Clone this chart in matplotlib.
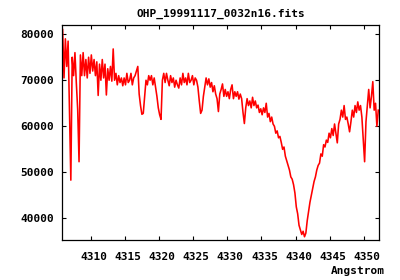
import numpy as np
import matplotlib
matplotlib.use("Agg")
import matplotlib.pyplot as plt
from matplotlib.transforms import ScaledTranslation

title = "OHP_19991117_0032n16.fits"
xlabel = "Angstrom"

# Wavelength sampling of the spectrum (Angstrom)
wl_start = 4305.9
wl_step = 0.2

# Flux values (thousands of counts)
flux_k = [
    81.0, 70.5, 79.0, 73.0, 78.5,
    63.5, 48.3, 75.0, 71.0, 76.0,
    69.5, 63.7, 52.3, 75.5, 71.0,
    76.0, 71.0, 74.5, 70.5, 75.0,
    71.5, 75.5, 72.0, 74.5, 71.0,
    74.0, 66.7, 73.5, 70.0, 74.5,
    70.5, 73.5, 66.8, 72.5, 70.0,
    73.0, 69.8, 76.8, 70.0, 71.5,
    69.0, 71.0, 69.5, 70.5, 68.8,
    70.5, 69.0, 71.5, 69.5, 70.0,
    71.5, 69.0, 70.5, 71.0, 72.0,
    73.0, 67.0, 64.5, 62.6, 62.8,
    66.5, 70.0, 69.0, 71.0, 70.0,
    71.0, 69.0, 70.5, 68.5, 66.5,
    64.0, 62.5, 61.5, 70.0, 71.5,
    69.5, 71.5, 70.0, 68.8, 71.0,
    69.5, 70.5, 68.5, 70.0, 69.0,
    68.3, 70.5, 69.0, 71.5, 69.5,
    70.5, 69.0, 71.5, 69.5, 70.0,
    71.0, 69.0, 70.5, 70.0, 68.5,
    65.5, 62.8, 63.5, 66.5, 68.5,
    70.5, 69.0, 70.3, 68.5, 69.5,
    67.5, 68.8, 67.0, 66.0, 63.2,
    67.0, 68.0, 69.2, 66.5, 68.0,
    66.5, 67.5, 66.0, 68.0, 69.0,
    66.0, 67.5, 66.5, 67.5, 65.9,
    67.0, 66.0, 63.0, 60.6, 64.0,
    66.0, 64.5, 65.5, 64.0, 66.3,
    64.5, 65.5, 64.0, 64.6, 63.0,
    63.8, 62.5, 64.0, 63.0, 65.0,
    62.0, 62.8, 61.0, 62.0, 60.5,
    60.0, 58.5, 59.0, 57.5, 57.8,
    56.5, 55.0, 55.5, 53.5, 52.5,
    51.5, 50.5, 49.0, 48.5, 47.3,
    45.5, 42.5, 41.0, 38.5, 37.5,
    36.5, 37.2, 36.0, 36.8, 39.5,
    41.5, 43.5, 45.0, 46.5, 48.0,
    49.0, 50.5, 51.5, 52.0, 54.0,
    53.5, 56.0, 55.5, 57.0, 56.5,
    58.5, 57.5, 59.5, 58.0, 60.5,
    58.5, 56.4, 60.5, 61.5, 63.5,
    62.0, 64.5, 61.5, 62.0, 60.5,
    58.8, 61.0, 63.5, 62.0, 64.5,
    63.0, 65.3, 63.5, 64.5, 62.0,
    57.0, 52.3, 61.0, 64.5, 68.0,
    64.0, 66.5, 69.7, 63.5, 65.0,
    60.0, 63.5,
]

xticks = [4310, 4315, 4320, 4325, 4330, 4335, 4340, 4345, 4350]
yticks = [40000, 50000, 60000, 70000, 80000]
xlim = (4305.85, 4352.25)
ylim = (35300, 82000)

flux = np.array(flux_k) * 1000.0
wl = wl_start + wl_step * np.arange(len(flux))

plt.rcParams['font.family'] = ['DejaVu Sans Mono']
plt.rcParams['font.weight'] = 'bold'

fig = plt.figure(figsize=(4.0, 2.8), dpi=100)
ax = fig.add_axes([62.3 / 400, 1 - 240 / 280, (379.3 - 62.3) / 400, (240 - 25) / 280])
ax.plot(wl, flux, color='#ff0000', lw=1.15)

ax.set_xlim(*xlim)
ax.set_ylim(*ylim)
ax.set_xticks(xticks)
ax.set_yticks(yticks)
ax.set_xticklabels([str(t) for t in xticks], fontsize=8, fontweight='bold')
ax.set_yticklabels([str(t) for t in yticks], fontsize=8, fontweight='bold')
ax.tick_params(direction='in', length=3.2, width=0.8, top=True, right=True,
               color='black', pad=6)
ax.tick_params(axis='x', pad=9)
for lab in ax.get_xticklabels():
    lab.set_transform(lab.get_transform() + ScaledTranslation(3 / 100, 0, fig.dpi_scale_trans))
for sp in ax.spines.values():
    sp.set_linewidth(0.9)
    sp.set_color('black')

fig.text(220.8 / 400, 1 - 14 / 280, title, ha='center', va='center',
         fontsize=8, fontweight='bold')
fig.text(385 / 400, 1 - 271 / 280, xlabel, ha='right', va='center',
         fontsize=8, fontweight='bold')

fig.savefig('out.png', dpi=100, facecolor='white')
